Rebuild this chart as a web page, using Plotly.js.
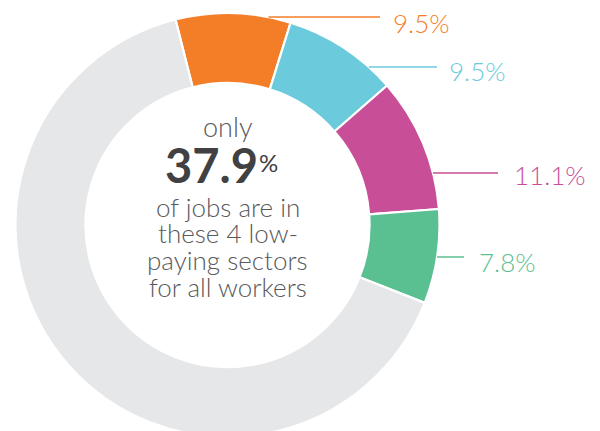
<!DOCTYPE html>
<html>
<head>
<meta charset="utf-8">
<script src="https://cdn.plot.ly/plotly-3.0.1.min.js"></script>
<style>
  html, body { margin: 0; padding: 0; background: #ffffff; overflow: hidden; }
  #chart { width: 600px; height: 450px; }
</style>
</head>
<body>
<div id="chart"></div>
<script>
// ---- data ----
const sectors = ['Low-paying sector 1', 'Low-paying sector 2', 'Low-paying sector 3', 'Low-paying sector 4', 'All other sectors (as drawn)'];
const shares = [9.5, 9.5, 11.1, 7.8, 70.6];
const sliceColors = ['#f47d27', '#6bcbdc', '#c94e98', '#5bc091', '#e6e7e8'];
const headline = '37.9';
const centerLines = ['of jobs are in', 'these 4 low-', 'paying sectors', 'for all workers'];

// ---- layout constants (pixels) ----
const W = 600, H = 450;
const CX = 227.5, CY = 225, R = 212;
const px = x => x / W;
const py = y => 1 - y / H;

// label rows: y of leader line, line end x, text left x, text centre y
const labelRows = [
  { ly: 17,  lx1: 380, tx: 391, ty: 22.5 },
  { ly: 67,  lx1: 437, tx: 447, ty: 70.5 },
  { ly: 173, lx1: 498, tx: 512, ty: 175 },
  { ly: 257, lx1: 464, tx: 477, ty: 262 }
];
const bodyLineY = [207, 233.5, 260, 286.5];

const trace = {
  type: 'pie',
  labels: sectors,
  values: shares,
  sort: false,
  direction: 'clockwise',
  rotation: -14.2,
  hole: 0.67,
  textinfo: 'none',
  hoverinfo: 'label+value',
  marker: { colors: sliceColors, line: { color: '#ffffff', width: 2.2 } },
  domain: { x: [px(CX - R), px(CX + R)], y: [py(CY + R), py(CY - R)] },
  showlegend: false
};

const shapes = [];
const annotations = [];
labelRows.forEach((row, i) => {
  const dy = row.ly - CY;
  const x0 = CX + Math.sqrt(Math.max(R * R - dy * dy, 0));
  shapes.push({
    type: 'line', xref: 'paper', yref: 'paper',
    x0: px(x0), x1: px(row.lx1), y0: py(row.ly), y1: py(row.ly),
    line: { color: sliceColors[i], width: 1.5 }
  });
  annotations.push({
    xref: 'paper', yref: 'paper', x: px(row.tx), y: py(row.ty),
    xanchor: 'left', yanchor: 'middle', showarrow: false,
    text: shares[i].toFixed(1) + '%',
    font: { family: 'Lato', size: 26, color: sliceColors[i], weight: 300 }
  });
});

annotations.push({
  xref: 'paper', yref: 'paper', x: px(CX), y: py(127),
  xanchor: 'center', yanchor: 'middle', showarrow: false,
  text: 'only', font: { family: 'Lato', size: 27, color: '#58595b', weight: 300 }
});
annotations.push({
  xref: 'paper', yref: 'paper', x: px(260), y: py(165),
  xanchor: 'right', yanchor: 'middle', showarrow: false,
  text: '<b>' + headline + '</b>', font: { family: 'Lato', size: 47, color: '#414042' }
});
annotations.push({
  xref: 'paper', yref: 'paper', x: px(257), y: py(162),
  xanchor: 'left', yanchor: 'middle', showarrow: false,
  text: '%', font: { family: 'Lato', size: 24, color: '#414042' }
});
centerLines.forEach((line, i) => {
  annotations.push({
    xref: 'paper', yref: 'paper', x: px(CX), y: py(bodyLineY[i]),
    xanchor: 'center', yanchor: 'middle', showarrow: false,
    text: line, font: { family: 'Lato', size: 26, color: '#58595b', weight: 300 }
  });
});

const layout = {
  width: W, height: H,
  margin: { l: 0, r: 0, t: 0, b: 0 },
  paper_bgcolor: '#ffffff',
  plot_bgcolor: '#ffffff',
  shapes: shapes,
  annotations: annotations
};

Plotly.newPlot('chart', [trace], layout, { staticPlot: true, displayModeBar: false });
</script>
</body>
</html>
